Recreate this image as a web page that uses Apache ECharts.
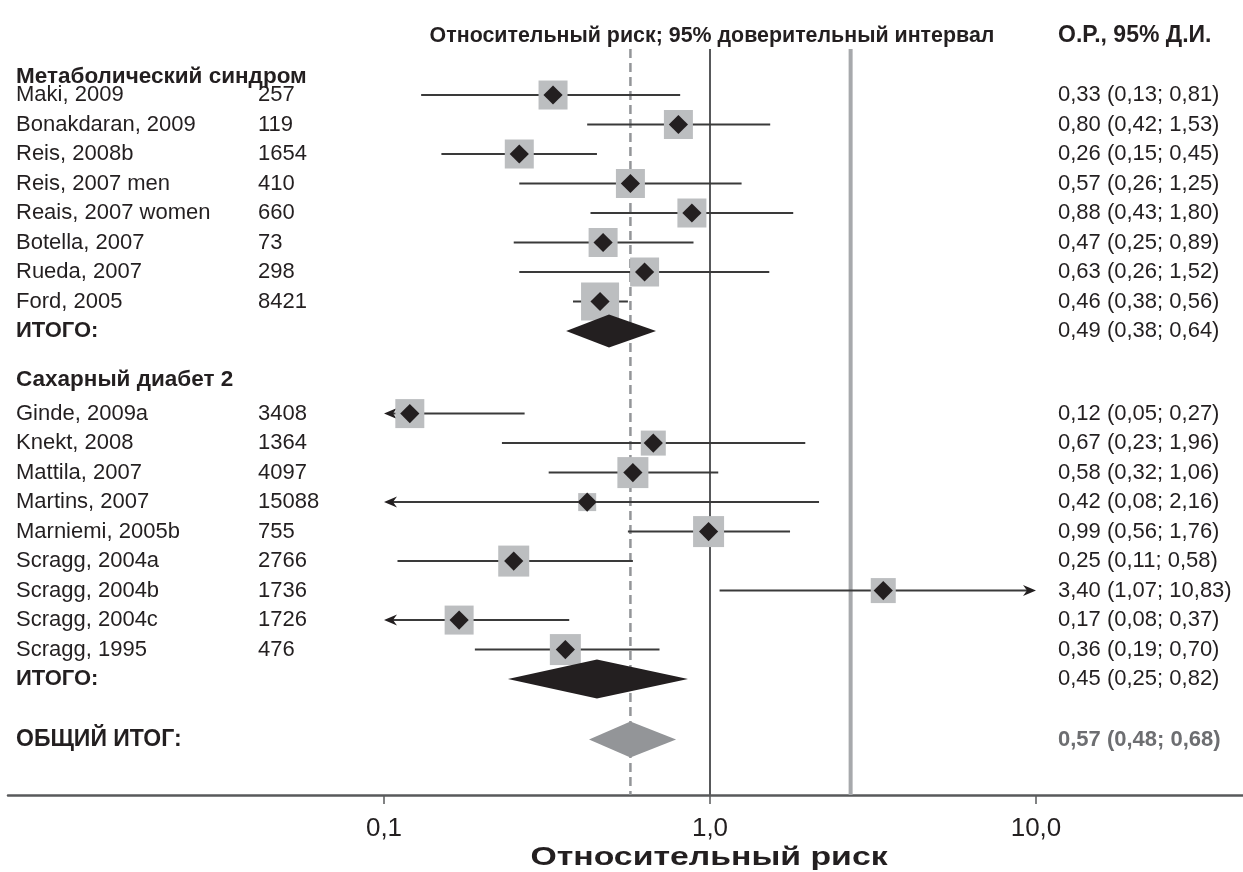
<!DOCTYPE html>
<html><head><meta charset="utf-8">
<script src="https://cdn.jsdelivr.net/npm/echarts@6/dist/echarts.min.js"></script>
<style>html,body{margin:0;padding:0;background:#fff}#c{width:1243px;height:872px}</style>
</head><body><div id="c"></div>
<script>
// ---------- DATA ----------
const headerPlot = 'Относительный риск; 95% доверительный интервал';
const headerCI = 'О.Р., 95% Д.И.';
const axisTitle = 'Относительный риск';
const totalLabel = 'ИТОГО:';
const overallLabel = 'ОБЩИЙ ИТОГ:';

const group1Title = 'Метаболический синдром';
const group1Names = ['Maki, 2009','Bonakdaran, 2009','Reis, 2008b','Reis, 2007 men','Reais, 2007 women','Botella, 2007','Rueda, 2007','Ford, 2005'];
const group1N = [257, 119, 1654, 410, 660, 73, 298, 8421];
const group1RR = [0.33, 0.80, 0.26, 0.57, 0.88, 0.47, 0.63, 0.46];
const group1Lo = [0.13, 0.42, 0.15, 0.26, 0.43, 0.25, 0.26, 0.38];
const group1Hi = [0.81, 1.53, 0.45, 1.25, 1.80, 0.89, 1.52, 0.56];
const group1Weight = [7.25, 7.25, 7.25, 7.25, 7.25, 7.25, 7.25, 9.5];
const group1Total = [0.49, 0.38, 0.64];
const group1TotalSpan = [0.362, 0.683];

const group2Title = 'Сахарный диабет 2';
const group2Names = ['Ginde, 2009a','Knekt, 2008','Mattila, 2007','Martins, 2007','Marniemi, 2005b','Scragg, 2004a','Scragg, 2004b','Scragg, 2004c','Scragg, 1995'];
const group2N = [3408, 1364, 4097, 15088, 755, 2766, 1736, 1726, 476];
const group2RR = [0.12, 0.67, 0.58, 0.42, 0.99, 0.25, 3.40, 0.17, 0.36];
const group2Lo = [0.05, 0.23, 0.32, 0.08, 0.56, 0.11, 1.07, 0.08, 0.19];
const group2Hi = [0.27, 1.96, 1.06, 2.16, 1.76, 0.58, 10.83, 0.37, 0.70];
const group2Weight = [7.25, 6.25, 7.75, 4.5, 7.75, 7.75, 6.25, 7.25, 7.75];
const group2Total = [0.45, 0.25, 0.82];
const group2TotalSpan = [0.24, 0.856];

const overallTotal = [0.57, 0.48, 0.68];
const overallSpan = [0.4255, 0.787];

const nullLineValue = 1.0;
const greyLineValue = 2.7;
const tickValues = [0.1, 1, 10];
const tickLabels = ['0,1', '1,0', '10,0'];
const displayMin = 0.1, displayMax = 10;

// ---------- LAYOUT (row units) ----------
const ROW_HEADER = -2.0, ROW_TOP = -1.56, ROW_AXIS = 23.73, ROW_AXIS_TITLE = 25.87;
const ROW_G1_TITLE = -0.62, ROW_G1_START = 0, ROW_G1_TOTAL = 8;
const ROW_G2_TITLE = 9.66, ROW_G2_START = 10.8, ROW_G2_TOTAL = 19.8;
const ROW_OVERALL = 21.85;
const X_NAME = 16, X_N = 258, X_CI = 1058;
const FONT = '"Liberation Sans", Arial, sans-serif';
const TXT = '#231f20';
const SQUARE_PX = 4;

const fmt = v => v.toFixed(2).replace('.', ',');
const ciText = (e, l, h) => `${fmt(e)} (${fmt(l)}; ${fmt(h)})`;
const lg = v => Math.log10(v);

const studies = [];
group1Names.forEach((n, i) => studies.push([group1RR[i], group1Lo[i], group1Hi[i], ROW_G1_START + i, group1Weight[i]]));
group2Names.forEach((n, i) => studies.push([group2RR[i], group2Lo[i], group2Hi[i], ROW_G2_START + i, group2Weight[i]]));

const summaries = [
  [group1Total[0], group1TotalSpan[0], group1TotalSpan[1], ROW_G1_TOTAL, 33, 0],
  [group2Total[0], group2TotalSpan[0], group2TotalSpan[1], ROW_G2_TOTAL, 39, 0],
  [overallTotal[0], overallSpan[0], overallSpan[1], ROW_OVERALL, 36, 1]
];

const reg = `22px ${FONT}`, bold = `bold 22px ${FONT}`;
const texts = [];
texts.push({x: 712, row: ROW_HEADER, text: headerPlot, font: `bold 21.4px ${FONT}`, align: 'center', color: TXT});
texts.push({x: X_CI, row: ROW_HEADER, text: headerCI, font: `bold 23px ${FONT}`, align: 'left', color: TXT});
texts.push({x: X_NAME, row: ROW_G1_TITLE, text: group1Title, font: `bold 22.5px ${FONT}`, align: 'left', color: TXT});
group1Names.forEach((n, i) => {
  texts.push({x: X_NAME, row: ROW_G1_START + i, text: n, font: reg, align: 'left', color: TXT});
  texts.push({x: X_N, row: ROW_G1_START + i, text: String(group1N[i]), font: reg, align: 'left', color: TXT});
  texts.push({x: X_CI, row: ROW_G1_START + i, text: ciText(group1RR[i], group1Lo[i], group1Hi[i]), font: reg, align: 'left', color: TXT});
});
texts.push({x: X_NAME, row: ROW_G1_TOTAL, text: totalLabel, font: bold, align: 'left', color: TXT});
texts.push({x: X_CI, row: ROW_G1_TOTAL, text: ciText(...group1Total), font: reg, align: 'left', color: TXT});
texts.push({x: X_NAME, row: ROW_G2_TITLE, text: group2Title, font: `bold 22.5px ${FONT}`, align: 'left', color: TXT});
group2Names.forEach((n, i) => {
  texts.push({x: X_NAME, row: ROW_G2_START + i, text: n, font: reg, align: 'left', color: TXT});
  texts.push({x: X_N, row: ROW_G2_START + i, text: String(group2N[i]), font: reg, align: 'left', color: TXT});
  texts.push({x: X_CI, row: ROW_G2_START + i, text: ciText(group2RR[i], group2Lo[i], group2Hi[i]), font: reg, align: 'left', color: TXT});
});
texts.push({x: X_NAME, row: ROW_G2_TOTAL, text: totalLabel, font: bold, align: 'left', color: TXT});
texts.push({x: X_CI, row: ROW_G2_TOTAL, text: ciText(...group2Total), font: reg, align: 'left', color: TXT});
texts.push({x: X_NAME, row: ROW_OVERALL, text: overallLabel, font: `bold 23px ${FONT}`, align: 'left', color: TXT});
texts.push({x: X_CI, row: ROW_OVERALL, text: ciText(...overallTotal), font: bold, align: 'left', color: '#6d6e71'});
texts.push({x: 709, row: ROW_AXIS_TITLE, text: axisTitle, font: `bold 26px ${FONT}`, align: 'center', color: TXT, sx: 1.3});

function arrowHead(x, y, dir) {
  return {type: 'polygon', shape: {points: [[x, y], [x - dir * 13, y - 5.5], [x - dir * 9, y], [x - dir * 13, y + 5.5]]},
    style: {fill: '#231f20'}};
}

const xMin = (8 - 710) / 326, xMax = (1243 - 710) / 326;
const chart = echarts.init(document.getElementById('c'), null, {renderer: 'canvas'});
chart.setOption({
  backgroundColor: '#fff',
  animation: false,
  grid: {left: 8, right: 0, top: 49, bottom: 77, containLabel: false},
  xAxis: [{
    type: 'value', min: xMin, max: xMax,
    splitLine: {show: false},
    axisLine: {show: true, onZero: false, lineStyle: {color: '#58595b', width: 2.5}},
    axisTick: {show: true, customValues: tickValues.map(lg), length: 9, lineStyle: {color: '#58595b', width: 1.5}},
    axisLabel: {show: true, customValues: tickValues.map(lg), margin: 21, fontSize: 26, fontFamily: FONT, color: TXT,
      formatter: v => { const i = tickValues.findIndex(t => Math.abs(lg(t) - v) < 1e-6); return i >= 0 ? tickLabels[i] : ''; }}
  }, {type: 'value', min: 8, max: 1243, show: false}],
  yAxis: [{type: 'value', inverse: true, min: ROW_TOP, max: ROW_AXIS, show: false}],
  series: [
    {type: 'line', xAxisIndex: 0, symbol: 'none', silent: true, z: 1,
      data: [[lg(overallTotal[0]), ROW_TOP], [lg(overallTotal[0]), ROW_AXIS]],
      lineStyle: {color: '#939598', width: 2.5, type: [9, 5]}},
    {type: 'line', xAxisIndex: 0, symbol: 'none', silent: true, z: 1,
      data: [[lg(nullLineValue), ROW_TOP], [lg(nullLineValue), ROW_AXIS]],
      lineStyle: {color: '#58595b', width: 2}},
    {type: 'line', xAxisIndex: 0, symbol: 'none', silent: true, z: 1,
      data: [[lg(greyLineValue), ROW_TOP], [lg(greyLineValue), ROW_AXIS]],
      lineStyle: {color: '#a7a9ac', width: 4}},
    {type: 'custom', xAxisIndex: 0, z: 3, silent: true, data: studies,
      renderItem: (params, api) => {
        const rr = api.value(0), lo = api.value(1), hi = api.value(2), row = api.value(3), w = api.value(4);
        const p = api.coord([lg(rr), row]);
        const pl = api.coord([lg(Math.max(lo, displayMin)), row]);
        const ph = api.coord([lg(Math.min(hi, displayMax)), row]);
        const ch = [];
        ch.push({type: 'line', shape: {x1: pl[0] + (lo < displayMin ? 8 : 0), y1: p[1], x2: ph[0] - (hi > displayMax ? 8 : 0), y2: p[1]},
          style: {stroke: '#3a3a3a', lineWidth: 2}});
        if (lo < displayMin) ch.push(arrowHead(pl[0], p[1], -1));
        if (hi > displayMax) ch.push(arrowHead(ph[0], p[1], 1));
        const s = w * SQUARE_PX;
        ch.push({type: 'rect', shape: {x: p[0] - s / 2, y: p[1] - s / 2, width: s, height: s}, style: {fill: '#bcbec0'}});
        const d = 9.6;
        ch.push({type: 'polygon', shape: {points: [[p[0], p[1] - d], [p[0] + d, p[1]], [p[0], p[1] + d], [p[0] - d, p[1]]]},
          style: {fill: '#231f20'}});
        return {type: 'group', children: ch};
      }},
    {type: 'custom', xAxisIndex: 0, z: 4, silent: true, data: summaries,
      renderItem: (params, api) => {
        const e = api.coord([lg(api.value(0)), api.value(3)]);
        const l = api.coord([lg(api.value(1)), api.value(3)]);
        const h = api.coord([lg(api.value(2)), api.value(3)]);
        const hh = api.value(4) / 2;
        return {type: 'polygon', shape: {points: [[l[0], e[1]], [e[0], e[1] - hh], [h[0], e[1]], [e[0], e[1] + hh]]},
          style: {fill: api.value(5) ? '#939598' : '#231f20'}};
      }},
    {type: 'custom', xAxisIndex: 1, z: 5, silent: true, data: texts.map(t => [t.x, t.row]),
      renderItem: (params, api) => {
        const t = texts[params.dataIndex];
        const p = api.coord([api.value(0), api.value(1)]);
        return {type: 'text', x: p[0], y: p[1], scaleX: t.sx || 1, style: {text: t.text, font: t.font, fill: t.color, textAlign: t.align, textVerticalAlign: 'middle'}};
      }}
  ]
});
</script></body></html>
